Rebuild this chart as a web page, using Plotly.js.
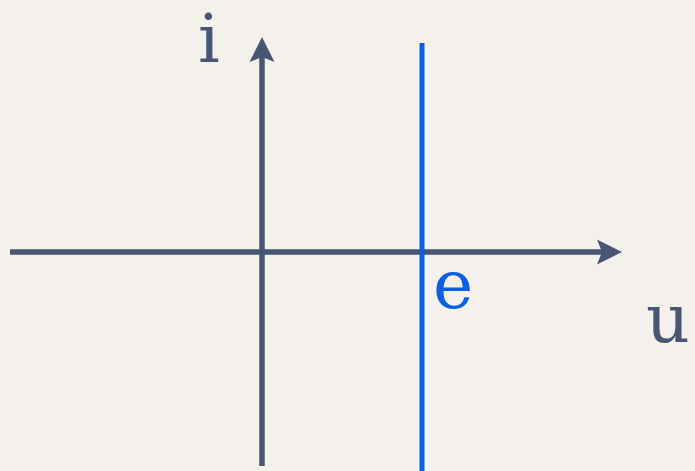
<!DOCTYPE html>
<html>
<head>
<meta charset="utf-8">
<script src="https://cdn.plot.ly/plotly-3.0.1.min.js"></script>
<style>html,body{margin:0;padding:0;background:#f4f1ec;}#chart{width:695px;height:471px;}</style>
</head>
<body>
<div id="chart"></div>
<script>
// Diagram values (data units)
const uRange = [-252, 360];      // horizontal u axis: start, arrow tip
const iRange = [-214, 215];      // vertical i axis: start, arrow tip
const eValue = 160;              // position of the vertical line u = e
const eLineRange = [-222, 209];  // extent of the e line
const labels = ['i', 'e', 'u'];
const labelX = [-53, 191, 406];
const labelY = [214, -32, -66];

const axisColor = '#485671';
const blue = '#0b5fe6';
const headLen = 25, headHalf = 12.5, notch = 5;

function arrowHead(tipX, tipY, dir) {
  if (dir === 'right') {
    return {x: [tipX, tipX - headLen, tipX - headLen + notch, tipX - headLen, tipX],
            y: [tipY, tipY + headHalf, tipY, tipY - headHalf, tipY]};
  }
  return {x: [tipX, tipX - headHalf, tipX, tipX + headHalf, tipX],
          y: [tipY, tipY - headLen, tipY - headLen + notch, tipY - headLen, tipY]};
}

const hHead = arrowHead(uRange[1], 0, 'right');
const vHead = arrowHead(0, iRange[1], 'up');

const traces = [
  {x: [uRange[0], uRange[1] - headLen + notch], y: [0, 0], mode: 'lines',
   line: {color: axisColor, width: 5.5}, hoverinfo: 'skip'},
  {x: [0, 0], y: [iRange[0], iRange[1] - headLen + notch], mode: 'lines',
   line: {color: axisColor, width: 5.5}, hoverinfo: 'skip'},
  {x: hHead.x, y: hHead.y, mode: 'lines', fill: 'toself', fillcolor: axisColor,
   line: {color: axisColor, width: 0}, hoverinfo: 'skip'},
  {x: vHead.x, y: vHead.y, mode: 'lines', fill: 'toself', fillcolor: axisColor,
   line: {color: axisColor, width: 0}, hoverinfo: 'skip'},
  {x: [eValue, eValue], y: eLineRange, mode: 'lines',
   line: {color: blue, width: 5}, hoverinfo: 'skip'}
];

const labelColors = [axisColor, blue, axisColor];
const annotations = labels.map((t, k) => ({
  x: labelX[k], y: labelY[k], xref: 'x', yref: 'y', text: t, showarrow: false,
  xanchor: 'center', yanchor: 'middle',
  font: {family: 'DejaVu Serif, Liberation Serif, serif', size: 68, color: labelColors[k]}
}));

const layout = {
  width: 695, height: 471,
  margin: {l: 0, r: 0, t: 0, b: 0, pad: 0},
  paper_bgcolor: '#f4f1ec', plot_bgcolor: '#f4f1ec',
  showlegend: false,
  xaxis: {range: [-262, 433], visible: false, fixedrange: true},
  yaxis: {range: [-219, 252], visible: false, fixedrange: true},
  annotations: annotations
};

Plotly.newPlot('chart', traces, layout, {displayModeBar: false, staticPlot: true});
</script>
</body>
</html>
